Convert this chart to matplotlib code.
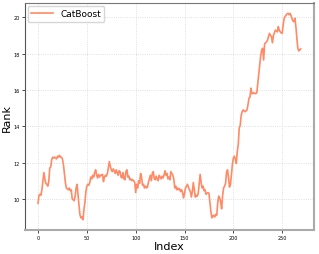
import numpy as np
import matplotlib
matplotlib.use("Agg")
import matplotlib.pyplot as plt

# rank values per index
rank = [
    9.75, 10.2, 10.25, 10.2, 10.5, 11.0, 11.45, 11.1, 10.85, 10.8,
    10.7, 10.95, 11.7, 11.75, 12.15, 12.3, 12.25, 12.3, 12.25, 12.2,
    12.35, 12.3, 12.4, 12.3, 12.3, 12.2, 11.9, 11.4, 10.9, 10.6,
    10.55, 10.5, 10.6, 10.45, 10.5, 10.0, 9.95, 9.9, 10.15, 10.6,
    10.8, 10.2, 9.6, 9.1, 8.95, 9.0, 8.85, 9.4, 9.8, 10.4,
    10.7, 10.8, 10.75, 10.9, 11.2, 11.1, 11.3, 11.2, 11.45, 11.6,
    11.3, 11.15, 11.35, 11.2, 11.3, 11.3, 11.35, 10.95, 11.2, 11.3,
    11.25, 11.4, 11.7, 12.05, 11.8, 11.6, 11.5, 11.65, 11.55, 11.4,
    11.6, 11.45, 11.3, 11.55, 11.5, 11.2, 11.15, 11.45, 11.1, 11.05,
    11.5, 11.6, 11.2, 11.25, 11.05, 11.1, 11.0, 11.05, 11.0, 10.9,
    10.35, 10.8, 10.6, 11.0, 10.85, 11.4, 11.2, 10.75, 10.8, 10.6,
    10.7, 10.6, 10.65, 10.9, 11.1, 11.3, 11.0, 11.4, 11.5, 11.1,
    11.05, 11.25, 11.1, 11.0, 11.3, 11.2, 11.1, 11.25, 11.15, 11.3,
    11.55, 11.3, 11.4, 11.1, 11.2, 11.05, 11.5, 11.4, 11.3, 11.1,
    10.6, 10.7, 10.5, 10.6, 10.5, 10.55, 10.4, 10.5, 10.35, 10.05,
    10.3, 10.6, 10.7, 10.8, 10.65, 10.5, 10.4, 10.1, 10.4, 10.9,
    10.5, 10.1, 10.2, 10.15, 10.3, 10.8, 11.35, 10.9, 10.6, 10.7,
    10.45, 10.5, 10.25, 10.3, 10.35, 10.3, 9.8, 9.3, 8.95, 9.05,
    9.1, 9.0, 9.15, 9.1, 9.8, 10.15, 10.05, 9.8, 9.45, 10.2,
    10.6, 10.7, 10.85, 11.45, 11.6, 11.2, 10.65, 10.8, 11.3, 11.9,
    12.25, 12.35, 12.2, 11.95, 12.6, 13.0, 13.9, 14.05, 14.6, 14.8,
    14.9, 14.85, 14.8, 14.85, 14.9, 15.2, 15.55, 15.6, 16.1, 15.8,
    15.8, 15.85, 15.8, 15.8, 15.85, 16.35, 16.9, 17.4, 17.9, 18.2,
    18.3, 17.65, 18.55, 18.6, 18.65, 18.75, 18.95, 19.12, 19.0, 18.95,
    18.6, 19.0, 19.15, 19.3, 19.25, 19.2, 19.49, 19.3, 19.2, 19.15,
    19.12, 19.58, 19.95, 20.05, 20.13, 20.2, 20.22, 20.15, 20.22, 20.1,
    19.95, 19.8, 19.76, 19.95, 19.5, 18.85, 18.3, 18.15, 18.2, 18.26,
]
index = np.arange(len(rank))

fig = plt.figure(figsize=(3.19, 2.55), dpi=100)
ax = fig.add_axes([0.078, 0.094, 0.906, 0.89])

ax.plot(index, rank, color="#FF8A65", lw=1.2, label="CatBoost")

ax.set_xticks([0, 50, 100, 150, 200, 250])
ax.set_yticks([10, 12, 14, 16, 18, 20])
ax.tick_params(labelsize=3.5, length=2, width=0.5, pad=1.5)
ax.grid(True, ls=":", lw=0.6, color="#d5d5d5")
ax.set_xlabel("Index", fontsize=8, labelpad=1)
ax.set_ylabel("Rank", fontsize=8, labelpad=1.5)

ax.spines["left"].set_color("#555555")
ax.spines["top"].set_color("#777777")
ax.spines["bottom"].set_color("#aaaaaa")
ax.spines["right"].set_color("#aaaaaa")
ax.spines["bottom"].set_linewidth(1.5)
ax.spines["right"].set_linewidth(1.5)

ax.legend(loc="upper left", fontsize=6.5, handlelength=2.4, borderpad=0.4,
          handletextpad=0.8, borderaxespad=0.3)

fig.savefig("out.png", dpi=100)
